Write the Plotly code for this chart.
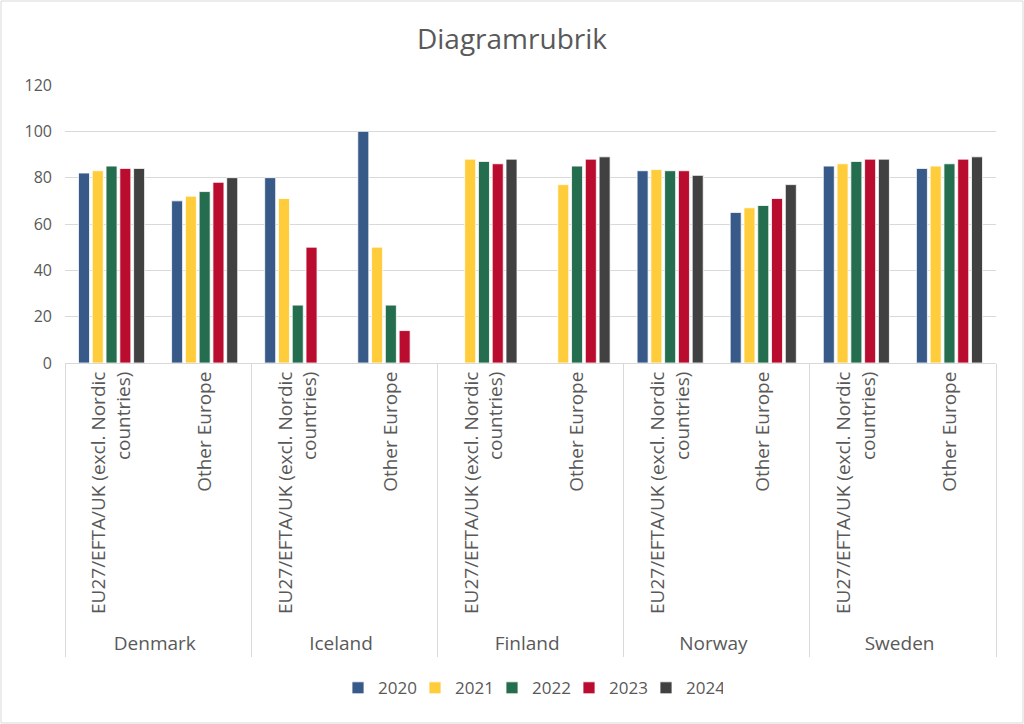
import plotly.graph_objects as go

# data
countries = ["Denmark", "Iceland", "Finland", "Norway", "Sweden"]
regions = ["EU27/EFTA/UK (excl. Nordic<br>countries)", "Other Europe"]
years = ["2020", "2021", "2022", "2023", "2024"]

y2020 = [82, 70, 80, 100, None, None, 83, 65, 85, 84]
y2021 = [83, 72, 71, 50, 88, 77, 83.5, 67, 86, 85]
y2022 = [85, 74, 25, 25, 87, 85, 83, 68, 87, 86]
y2023 = [84, 78, 50, 14, 86, 88, 83, 71, 88, 88]
y2024 = [84, 80, None, None, 88, 89, 81, 77, 88, 89]

colors = ["#375A88", "#FFCD3C", "#246D4F", "#BA0C2F", "#414141"]

# x som multikategori: land + region
x_outer = [c for c in countries for r in regions]
x_inner = [r for c in countries for r in regions]

fig = go.Figure()
for name, vals, col in zip(years, [y2020, y2021, y2022, y2023, y2024], colors):
    fig.add_trace(go.Bar(
        x=[x_outer, x_inner],
        y=vals,
        name=name,
        marker=dict(color=col, line=dict(color="white", width=0.8)),
    ))

fig.update_layout(
    width=1024, height=724,
    barmode="group",
    bargap=0.26,
    bargroupgap=0.2,
    plot_bgcolor="white",
    paper_bgcolor="white",
    font=dict(family="Open Sans, Lato, sans-serif", color="#595959", size=16),
    title=dict(text="Diagramrubrik", x=0.5, xanchor="center", y=0.96,
               font=dict(size=28, color="#595959")),
    margin=dict(l=65, r=28, t=85, b=361),
    legend=dict(orientation="h", x=0.5, xanchor="center", y=-1.17, yanchor="middle",
                font=dict(size=17), traceorder="normal", itemwidth=30,
                entrywidth=32, entrywidthmode="pixels"),
    showlegend=True,
)

fig.update_yaxes(range=[0, 120], dtick=20, showgrid=True, gridcolor="#D9D9D9",
                 gridwidth=1.2, zeroline=False, tickfont=dict(size=16),
                 ticks="", ticklabelstandoff=12, automargin=False)
fig.update_xaxes(tickangle=-90, tickfont=dict(size=19), showline=True,
                 linecolor="#D9D9D9", showdividers=True, dividercolor="#D9D9D9",
                 dividerwidth=1, automargin=False)

# ram runt diagrammet
fig.add_shape(type="rect", xref="paper", yref="paper",
              x0=-64/931, x1=1 + 27/931, y0=-360/278, y1=1 + 84/278,
              line=dict(color="#D9D9D9", width=1))

# ingen marginal i sidan
fig.write_html("out.html", config={"displayModeBar": False},
               post_script="document.body.style.margin='0';")
